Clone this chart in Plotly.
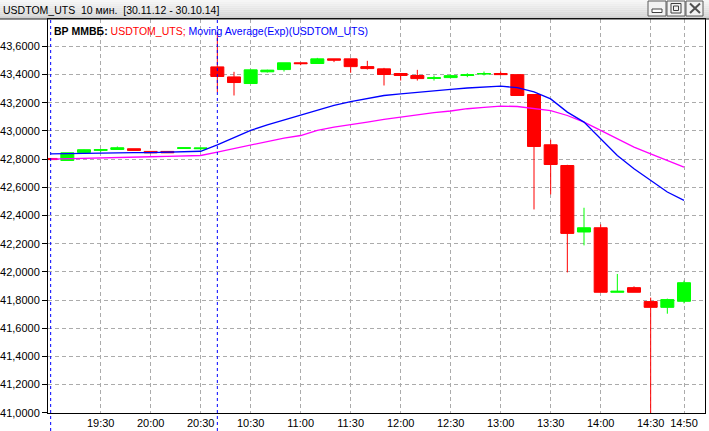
import plotly.graph_objects as go

# ---------------- data ----------------
times = ["19:00", "19:10", "19:20", "19:30", "19:40", "19:50", "20:00", "20:10", "20:20", "20:30",
         "10:10", "10:20", "10:30", "10:40", "10:50", "11:00", "11:10", "11:20", "11:30", "11:40",
         "11:50", "12:00", "12:10", "12:20", "12:30", "12:40", "12:50", "13:00", "13:10", "13:20",
         "13:30", "13:40", "13:50", "14:00", "14:10", "14:20", "14:30", "14:40", "14:50"]

opens = [42.805, 42.791, 42.848, 42.862, 42.869, 42.874, 42.855, 42.855, 42.876, 42.874,
         43.455, 43.384, 43.337, 43.420, 43.436, 43.484, 43.479, 43.512, 43.512, 43.457,
         43.441, 43.408, 43.394, 43.373, 43.379, 43.394, 43.404, 43.408, 43.400, 43.259,
         42.902, 42.755, 42.283, 42.313, 41.855, 41.888, 41.789, 41.748, 41.791]
highs = [42.805, 42.845, 42.869, 42.869, 42.890, 42.874, 42.855, 42.855, 42.881, 42.879,
         43.700, 43.420, 43.434, 43.435, 43.484, 43.484, 43.519, 43.512, 43.512, 43.498,
         43.448, 43.408, 43.434, 43.394, 43.400, 43.410, 43.422, 43.422, 43.400, 43.259,
         42.938, 42.760, 42.455, 42.337, 41.985, 41.897, 41.817, 41.810, 41.938]
lows = [42.795, 42.791, 42.848, 42.850, 42.869, 42.862, 42.845, 42.845, 42.876, 42.862,
        43.276, 43.252, 43.337, 43.415, 43.422, 43.467, 43.479, 43.489, 43.413, 43.436,
        43.323, 43.358, 43.358, 43.358, 43.379, 43.382, 43.394, 43.400, 43.252, 42.443,
        42.550, 41.996, 42.188, 41.855, 41.855, 41.855, 40.950, 41.703, 41.776]
closes = [42.797, 42.845, 42.867, 42.868, 42.881, 42.862, 42.845, 42.845, 42.881, 42.879,
          43.387, 43.344, 43.434, 43.432, 43.484, 43.478, 43.512, 43.503, 43.457, 43.443,
          43.401, 43.394, 43.372, 43.378, 43.393, 43.399, 43.408, 43.400, 43.252, 42.890,
          42.762, 42.273, 42.313, 41.855, 41.862, 41.855, 41.748, 41.803, 41.923]

ema_fast = [42.838, 42.840, 42.845, 42.846, 42.847, 42.847, 42.846, 42.848, 42.853, 42.856,
            42.902, 42.954, 43.004, 43.044, 43.079, 43.115, 43.150, 43.181, 43.209, 43.233,
            43.252, 43.264, 43.276, 43.283, 43.295, 43.305, 43.313, 43.318, 43.308, 43.277,
            43.228, 43.134, 43.063, 42.945, 42.826, 42.732, 42.649, 42.567, 42.507]
ema_slow = [42.800, 42.802, 42.808, 42.810, 42.811, 42.812, 42.817, 42.820, 42.822, 42.826,
            42.850, 42.874, 42.897, 42.921, 42.950, 42.968, 43.004, 43.028, 43.044, 43.063,
            43.082, 43.099, 43.115, 43.130, 43.142, 43.158, 43.168, 43.177, 43.174, 43.162,
            43.145, 43.110, 43.063, 43.004, 42.945, 42.886, 42.838, 42.791, 42.744]

x_tick_labels = ["19:30", "20:00", "20:30", "10:30", "11:00", "11:30", "12:00", "12:30",
                 "13:00", "13:30", "14:00", "14:30", "14:50"]
y_tick_values = [41.0, 41.2, 41.4, 41.6, 41.8, 42.0, 42.2, 42.4, 42.6, 42.8, 43.0, 43.2, 43.4, 43.6]
session_starts = ["19:00", "10:10"]

window_title = "USDTOM_UTS\u00a0\u00a010 мин.\u00a0\u00a0[30.11.12 - 30.10.14]"
header = ('<b>ВР ММВБ:</b> <span style="color:#FF0000">USDTOM_UTS;</span> '
          '<span style="color:#0000FF">Moving Average(Exp)(USDTOM_UTS)</span>')

# ---------------- layout geometry ----------------
W, H = 709, 431
L, R, T, B = 48, 4, 19, 18
PW, PH = W - L - R, H - T - B


def px(x):
    return (x - L) / PW


def py(y):
    return (H - B - y) / PH


FONT = "Liberation Sans"
GRID = "#ABABAB"

fig = go.Figure()
fig.add_trace(go.Candlestick(
    x=times, open=opens, high=highs, low=lows, close=closes,
    increasing=dict(line=dict(color="#00FF00", width=1), fillcolor="#00FF00"),
    decreasing=dict(line=dict(color="#FF0000", width=1), fillcolor="#FF0000"),
    whiskerwidth=0, showlegend=False, hoverinfo="skip"))
fig.add_trace(go.Scatter(x=times, y=ema_slow, mode="lines",
                         line=dict(color="#FF00FF", width=1.3), showlegend=False, hoverinfo="skip"))
fig.add_trace(go.Scatter(x=times, y=ema_fast, mode="lines",
                         line=dict(color="#0000FF", width=1.3), showlegend=False, hoverinfo="skip"))

shapes = []
# title bar gradient
n_bands = 10
c0, c1 = (0xF6, 0xF6, 0xF6), (0xD2, 0xD2, 0xD2)
for i in range(n_bands):
    t = i / (n_bands - 1)
    col = "rgb(%d,%d,%d)" % tuple(round(a + (b - a) * t) for a, b in zip(c0, c1))
    y0 = i * T / n_bands
    y1 = (i + 1) * T / n_bands
    shapes.append(dict(type="rect", xref="paper", yref="paper", x0=px(0), x1=px(W),
                       y0=py(y1), y1=py(y0), fillcolor=col, line=dict(width=0), layer="below"))
shapes.append(dict(type="line", xref="paper", yref="paper", x0=px(0), x1=px(W),
                   y0=py(T), y1=py(T), line=dict(color="#202020", width=1)))
# window buttons
for bx0, bx1 in [(648, 666), (667, 685), (686, 703)]:
    shapes.append(dict(type="rect", xref="paper", yref="paper", x0=px(bx0), x1=px(bx1),
                       y0=py(16), y1=py(1), fillcolor="#F2F2F2", line=dict(color="#5A5A5A", width=1)))
# minimize icon
shapes.append(dict(type="rect", xref="paper", yref="paper", x0=px(652), x1=px(662),
                   y0=py(12.5), y1=py(9), fillcolor="#FFFFFF", line=dict(color="#404040", width=1)))
# restore icon
shapes.append(dict(type="rect", xref="paper", yref="paper", x0=px(671), x1=px(681),
                   y0=py(13), y1=py(3.5), fillcolor="rgba(0,0,0,0)", line=dict(color="#404040", width=1)))
shapes.append(dict(type="rect", xref="paper", yref="paper", x0=px(673.5), x1=px(678.5),
                   y0=py(10.5), y1=py(6), fillcolor="rgba(0,0,0,0)", line=dict(color="#404040", width=1)))
# close icon
shapes.append(dict(type="line", xref="paper", yref="paper", x0=px(690), x1=px(700),
                   y0=py(3.5), y1=py(13), line=dict(color="#505050", width=2)))
shapes.append(dict(type="line", xref="paper", yref="paper", x0=px(690), x1=px(700),
                   y0=py(13), y1=py(3.5), line=dict(color="#505050", width=2)))
# session separators
for s in session_starts:
    idx = times.index(s)
    shapes.append(dict(type="line", xref="x", yref="paper", x0=idx, x1=idx,
                       y0=py(H), y1=1, line=dict(color="#0000FF", width=1, dash="3px,3px")))

annotations = [
    dict(xref="paper", yref="paper", x=px(1), y=py(9.5), xanchor="left", yanchor="middle",
         text=window_title, showarrow=False, font=dict(family=FONT, size=10.5, color="black")),
    dict(xref="paper", yref="paper", x=px(52), y=py(31), xanchor="left", yanchor="middle",
         text=header, showarrow=False, font=dict(family=FONT, size=10.5, color="black")),
]

fig.update_layout(
    width=W, height=H,
    margin=dict(l=L, r=R, t=T, b=B, pad=0, autoexpand=False),
    paper_bgcolor="white", plot_bgcolor="white",
    separators=",.",
    boxgap=0.22, boxgroupgap=0,
    font=dict(family=FONT, size=11, color="black"),
    showlegend=False,
    shapes=shapes, annotations=annotations,
)
fig.update_xaxes(
    type="category", range=[-0.16, 39.26], automargin=False,
    tickmode="array", tickvals=x_tick_labels, ticktext=x_tick_labels,
    showgrid=True, gridcolor=GRID, gridwidth=1, griddash="4px,3px",
    showline=True, linecolor="black", linewidth=1, mirror=True,
    ticks="", ticklabelstandoff=0, rangeslider_visible=False, zeroline=False,
    tickfont=dict(family=FONT, size=11, color="black"),
)
fig.update_yaxes(
    range=[40.998, 43.795], automargin=False,
    tickmode="array", tickvals=y_tick_values, tickformat=".4f",
    ticks="outside", ticklen=5, tickcolor="black",
    showgrid=True, gridcolor=GRID, gridwidth=1, griddash="4px,3px",
    showline=True, linecolor="black", linewidth=1, mirror=True,
    zeroline=False,
    tickfont=dict(family=FONT, size=11, color="black"),
)

fig.write_html(
    "out.html",
    config={"displayModeBar": False},
    post_script="document.body.style.margin='0px';document.body.style.padding='0px';"
                "document.body.style.overflow='hidden';",
)
